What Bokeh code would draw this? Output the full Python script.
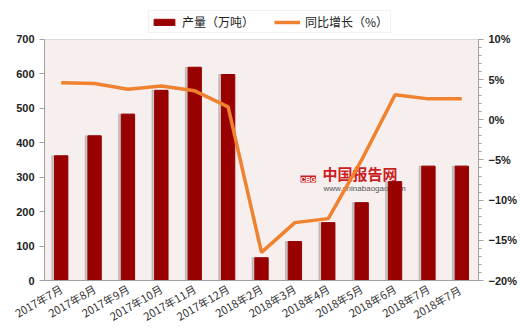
from bokeh.plotting import figure
from bokeh.models import (Range1d, LinearAxis, Legend, LegendItem, FactorRange, BoxAnnotation,
                          FixedTicker, CustomJSTickFormatter, ColumnDataSource, Label)
from bokeh.transform import dodge
from bokeh.embed import file_html
from bokeh.resources import INLINE
import math

categories = ["2017年7月", "2017年8月", "2017年9月", "2017年10月", "2017年11月", "2017年12月",
              "2018年2月", "2018年3月", "2018年4月", "2018年5月", "2018年6月", "2018年7月", "2018年7月 "]
output = [362, 420, 483, 552, 619, 598, 66, 113, 168, 226, 287, 332, 332]
growth = [4.6, 4.5, 3.8, 4.2, 3.6, 1.6, -16.5, -12.8, -12.3, -5.0, 3.1, 2.6, 2.6]
left_ticks = [0, 100, 200, 300, 400, 500, 600, 700]
right_ticks = [-20, -15, -10, -5, 0, 5, 10]

src = ColumnDataSource(dict(cat=categories, out=output, gr=growth))

# frame extends above the 700 line to leave room for the legend
ext = 271 / 242
p = figure(width=520, height=333, x_range=FactorRange(*categories), y_range=Range1d(0, 700 * ext),
           output_backend="svg", toolbar_location=None,
           min_border_left=44, min_border_right=42, min_border_top=10, min_border_bottom=52)
p.extra_y_ranges = {"pct": Range1d(-20, -20 + 30 * ext)}
p.background_fill_color = "white"
p.border_fill_color = "white"
p.outline_line_color = None
p.add_layout(BoxAnnotation(bottom=0, top=700, fill_color="#f7eeee", fill_alpha=1, line_color=None, level="underlay"))

p.xgrid.grid_line_color = None
p.ygrid.grid_line_color = "#c9c2c2"
p.ygrid.minor_grid_line_color = "#c9c2c2"
p.ygrid.grid_line_width = 1.2
p.yaxis.ticker = FixedTicker(ticks=left_ticks, minor_ticks=list(range(0, 701, 20)))

# watermark
p.add_layout(Label(x=256, y=98, x_units="screen", y_units="screen", text="CBG",
                   text_font="Liberation Sans", text_font_size="7px", text_font_style="bold",
                   text_color="white", background_fill_color="#c81e1e", level="underlay"))
p.add_layout(Label(x=278, y=97, x_units="screen", y_units="screen", text="中国报告网",
                   text_font="Noto Sans CJK SC", text_font_size="15px", text_font_style="bold",
                   text_color="#cc1f1f", level="underlay"))
p.add_layout(Label(x=279, y=88, x_units="screen", y_units="screen", text="www.chinabaogao.com",
                   text_font="Liberation Sans", text_font_size="8px", text_color="#555555",
                   level="underlay"))

# shadow
p.vbar(x=dodge("cat", -0.06, range=p.x_range), top="out", width=0.44, source=src,
       color="#9a9090", alpha=0.45)
bars = p.vbar(x="cat", top="out", width=0.4, source=src, color="#990000", line_color="#990000")
ln = p.line(x="cat", y="gr", source=src, y_range_name="pct", line_color="#f0822f", line_width=3.5)

ax = p.yaxis[0]
ax.bounds = (0, 700)
ax.axis_line_color = "#a0a0a0"
ax.major_tick_line_color = "#a0a0a0"
ax.minor_tick_line_color = None
ax.major_tick_out = 5
ax.major_tick_in = 0
ax.major_label_text_font = "Liberation Sans"
ax.major_label_text_font_style = "bold"
ax.major_label_text_font_size = "11px"
ax.major_label_text_color = "#222222"

rax = LinearAxis(y_range_name="pct", bounds=(-20, 10),
                 ticker=FixedTicker(ticks=right_ticks, minor_ticks=list(range(-20, 11, 1))))
rax.formatter = CustomJSTickFormatter(code="return (tick < 0 ? '\u2212' + Math.abs(tick) : tick) + '%';")
rax.axis_line_color = "#a0a0a0"
rax.major_tick_line_color = "#a0a0a0"
rax.minor_tick_line_color = "#a0a0a0"
rax.major_tick_out = 5
rax.major_tick_in = 0
rax.minor_tick_out = 3
rax.minor_tick_in = 0
rax.major_label_text_font = "Liberation Sans"
rax.major_label_text_font_style = "bold"
rax.major_label_text_font_size = "11px"
rax.major_label_text_color = "#222222"
p.add_layout(rax, "right")

xa = p.xaxis[0]
xa.axis_line_color = "#a0a0a0"
xa.major_tick_line_color = None
xa.major_label_orientation = math.radians(30)
xa.major_label_text_font = "Noto Sans CJK SC"
xa.major_label_text_font_size = "11px"
xa.major_label_text_color = "#333333"
xa.major_label_standoff = 1

legend = Legend(items=[LegendItem(label="产量（万吨）", renderers=[bars]),
                       LegendItem(label="同比增长（%）", renderers=[ln])],
                orientation="horizontal", location=(104, 247),
                label_text_font="Noto Sans CJK SC", label_text_font_size="12px",
                label_text_color="#222222", glyph_width=26, glyph_height=8,
                label_height=14, spacing=20, padding=2, margin=0,
                background_fill_color="white", border_line_color="#e6e6e6")
p.add_layout(legend, "center")

open("out.html", "w").write(file_html(p, INLINE))
